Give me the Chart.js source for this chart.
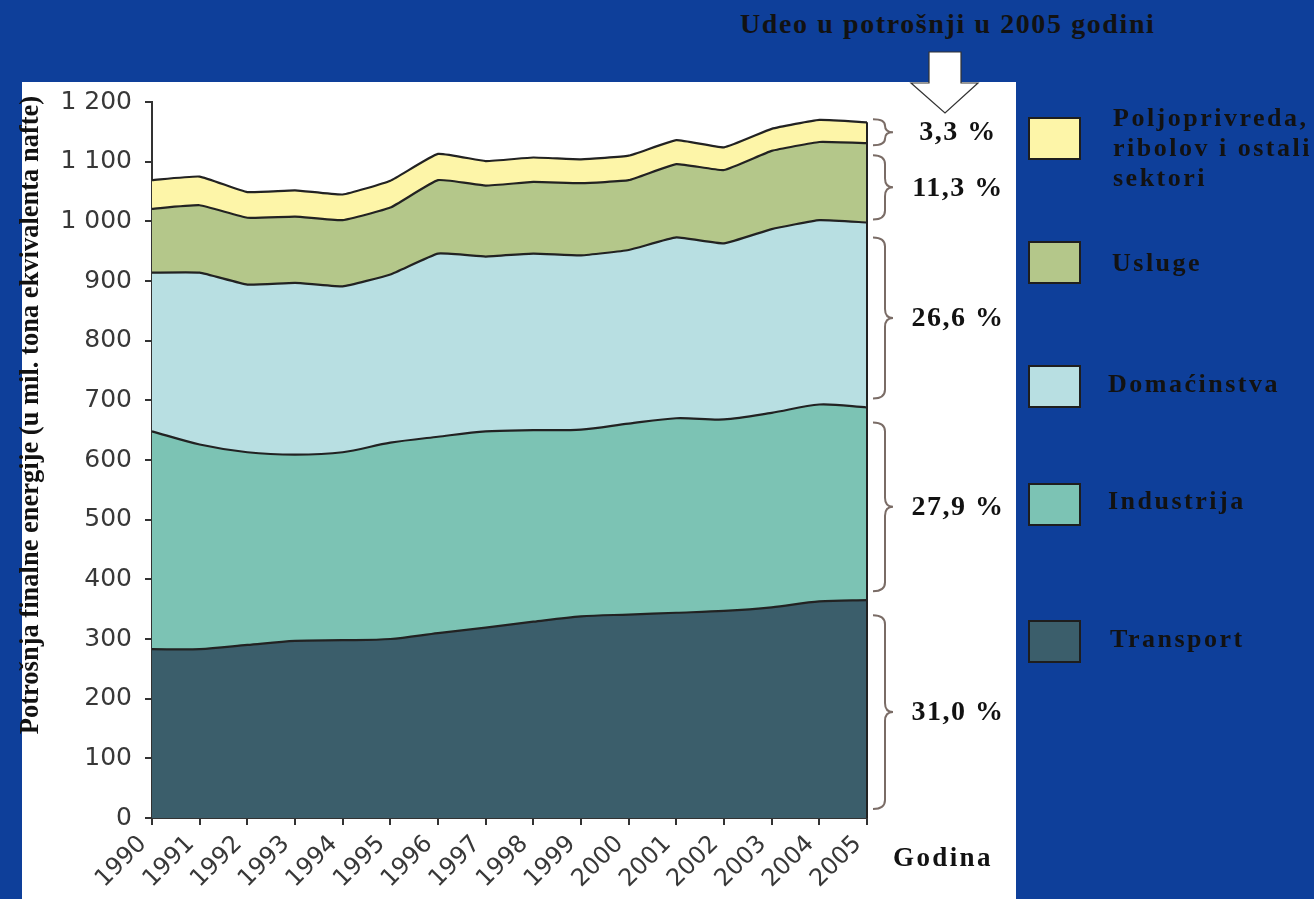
<!DOCTYPE html>
<html>
<head>
<meta charset="utf-8">
<script src="https://cdn.jsdelivr.net/npm/chart.js@4.4.0/dist/chart.umd.min.js"></script>
<style>
  body { margin: 0; width: 1314px; height: 899px; background: #0e3f9a; position: relative; overflow: hidden; font-family: "Liberation Serif", "Times New Roman", serif; }
  #panel { position: absolute; left: 22px; top: 82px; width: 994px; height: 817px; background: #fff; }
  #grafico { position: absolute; left: 0; top: 0; }
  .t { position: absolute; font-weight: bold; color: #121212; white-space: nowrap; }
  .box { position: absolute; width: 49px; height: 39px; border: 2px solid #1e1e1e; }
  #ytitle { left: 29px; top: 415px; font-size: 26.5px; transform: translate(-50%, -50%) rotate(-90deg); }
  #naslov { left: 740px; top: 8px; font-size: 28px; letter-spacing: 1.6px; }
  .leg { font-size: 26px; letter-spacing: 2.5px; line-height: 30px; }
</style>
</head>
<body>
<div id="panel"><canvas id="grafico" width="994" height="817"></canvas></div>

<div class="t" id="naslov">Udeo u potrošnji u 2005 godini</div>
<svg style="position:absolute;left:0;top:0" width="1314" height="899">
  <polygon points="929,52 961,52 961,83 978,83 945,113 911,83 929,83" fill="#fff" stroke="#333" stroke-width="1.2"/>
</svg>
<div class="t" id="ytitle">Potrošnja finalne energije (u mil. tona ekvivalenta nafte)</div>
<div class="t" style="left:893px;top:842px;font-size:27px;letter-spacing:2.4px;">Godina</div>

<div class="box" style="left:1028px;top:117px;background:#fdf5a8"></div>
<div class="box" style="left:1028px;top:241px;background:#b4c78a"></div>
<div class="box" style="left:1028px;top:365px;background:#b8dfe2"></div>
<div class="box" style="left:1028px;top:483px;background:#7cc3b4"></div>
<div class="box" style="left:1028px;top:620px;background:#3b5e6b"></div>

<div class="t leg" style="left:1113px;top:103px;">Poljoprivreda,<br>ribolov i ostali<br>sektori</div>
<div class="t leg" style="left:1112px;top:248px;">Usluge</div>
<div class="t leg" style="left:1108px;top:369px;">Domaćinstva</div>
<div class="t leg" style="left:1108px;top:486px;">Industrija</div>
<div class="t leg" style="left:1110px;top:624px;">Transport</div>

<script>
const godine = ['1990','1991','1992','1993','1994','1995','1996','1997','1998','1999','2000','2001','2002','2003','2004','2005'];
const transport     = [283, 283, 290, 297, 298, 300, 310, 319, 329, 338, 341, 344, 347, 353, 363, 365];
const industrija    = [365, 343, 323, 312, 315, 329, 329, 329, 321, 313, 320, 326, 321, 326, 330, 323];
const domacinstva   = [266, 288, 281, 288, 278, 282, 307, 293, 296, 292, 291, 303, 295, 308, 309, 310];
const usluge        = [107, 113, 112, 111, 111, 112, 123, 119, 120, 121, 117, 123, 123, 131, 131, 133];
const poljoprivreda = [ 48,  48,  43,  44,  43,  45,  44,  41,  41,  40,  41,  40,  38,  37,  37,  35];
const udeo2005 = ['31,0 %', '27,9 %', '26,6 %', '11,3 %', '3,3 %'];

const serije = [transport, industrija, domacinstva, usluge, poljoprivreda];
const nazivi = ['Transport', 'Industrija', 'Domaćinstva', 'Usluge', 'Poljoprivreda, ribolov i ostali sektori'];
const boje = ['#3b5e6b', '#7cc3b4', '#b8dfe2', '#b4c78a', '#fdf5a8'];
const napetost = [0.3, 0.3, 0.12, 0.12, 0.12];

function razmak(v) {
  return String(v).replace(/\B(?=(\d{3})+(?!\d))/g, ' ');
}

function zagrada(ctx, x, top, bottom, w) {
  const mid = (top + bottom) / 2;
  const r = Math.min(9, (bottom - top) / 4);
  const xm = x + w * 0.6;
  ctx.beginPath();
  ctx.moveTo(x, top);
  ctx.quadraticCurveTo(xm, top, xm, top + r);
  ctx.lineTo(xm, mid - r);
  ctx.quadraticCurveTo(xm, mid, x + w, mid);
  ctx.quadraticCurveTo(xm, mid, xm, mid + r);
  ctx.lineTo(xm, bottom - r);
  ctx.quadraticCurveTo(xm, bottom, x, bottom);
  ctx.stroke();
}

// desna ivica, zagrade i procenti za 2005
const udeoPlugin = {
  id: 'udeo',
  afterDraw(chart) {
    const ctx = chart.ctx;
    const y = chart.scales.y;
    const area = chart.chartArea;
    const last = godine.length - 1;
    let kum = 0;
    const granice = [0];
    serije.forEach(s => { kum += s[last]; granice.push(kum); });

    ctx.save();
    ctx.strokeStyle = '#222';
    ctx.lineWidth = 2;
    ctx.beginPath();
    ctx.moveTo(area.right, y.getPixelForValue(0));
    ctx.lineTo(area.right, y.getPixelForValue(kum));
    ctx.stroke();

    ctx.strokeStyle = '#7a6c66';
    ctx.lineWidth = 2;
    ctx.fillStyle = '#121212';
    ctx.font = 'bold 28px "Liberation Serif"';
    ctx.letterSpacing = '1.5px';
    ctx.textAlign = 'center';
    ctx.textBaseline = 'middle';
    for (let i = 0; i < serije.length; i++) {
      let b = y.getPixelForValue(granice[i]);
      let t = y.getPixelForValue(granice[i + 1]);
      const h = b - t;
      if (h > 100) { t += 15; b -= 9; }
      else if (h > 40) { t += 12; b -= 3; }
      else { t -= 3; b += 2; }
      zagrada(ctx, area.right + 6, t, b, 20);
      ctx.fillText(udeo2005[i], area.right + 91, (t + b) / 2 + 1);
    }
    ctx.restore();
  }
};

const ctx = document.getElementById('grafico');
new Chart(ctx, {
  type: 'line',
  data: {
    labels: godine,
    datasets: serije.map((s, i) => ({
      label: nazivi[i],
      data: s,
      backgroundColor: boje[i],
      borderColor: '#222',
      borderWidth: 2.2,
      pointRadius: 0,
      tension: napetost[i],
      fill: i === 0 ? 'origin' : '-1'
    }))
  },
  options: {
    responsive: false,
    animation: false,
    layout: { padding: { left: 0, top: 20, right: 149, bottom: 0 } },
    plugins: { legend: { display: false }, tooltip: { enabled: false } },
    scales: {
      x: {
        offset: false,
        grid: { display: true, drawOnChartArea: false, drawTicks: true, tickLength: 7, color: '#333', lineWidth: 2 },
        border: { color: '#333', width: 2 },
        ticks: { autoSkip: false, maxRotation: 45, minRotation: 45, padding: 5, labelOffset: -9, color: '#383838', font: { family: 'DejaVu Sans', size: 24 } },
        afterFit: s => { s.height = 81; s.paddingLeft = 0; s.paddingRight = 0; }
      },
      y: {
        stacked: true,
        min: 0,
        max: 1200,
        grid: { display: true, drawOnChartArea: false, drawTicks: true, tickLength: 7, color: '#333', lineWidth: 2 },
        border: { color: '#333', width: 2 },
        ticks: { stepSize: 100, padding: 13, color: '#383838', font: { family: 'DejaVu Sans', size: 25 }, callback: v => razmak(v) },
        afterFit: s => { s.width = 130; s.paddingTop = 0; s.paddingBottom = 0; }
      }
    }
  },
  plugins: [udeoPlugin]
});
</script>
</body>
</html>
